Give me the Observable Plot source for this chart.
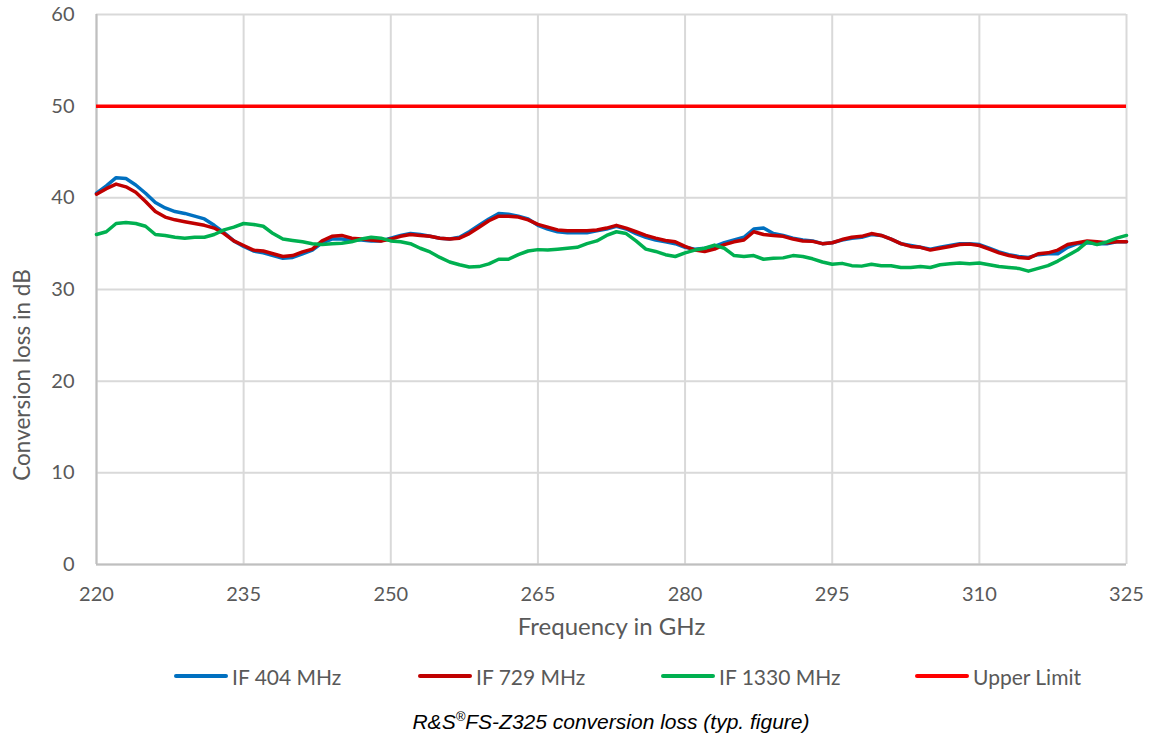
<!DOCTYPE html>
<html>
<head>
<meta charset="utf-8">
<script src="https://cdn.jsdelivr.net/npm/d3@7"></script>
<script src="https://cdn.jsdelivr.net/npm/@observablehq/plot@0.6"></script>
<style>
  body { margin: 0; background: #fff; }
  #fig { position: relative; width: 1151px; height: 739px; font-family: Lato, sans-serif; }
  #ytitle { position: absolute; left: 22px; top: 375px; transform: translate(-50%, -50%) rotate(-90deg);
            font-size: 22.5px; color: #595959; white-space: nowrap; line-height: 1; }
  #legend { position: absolute; top: 664px; left: 0; width: 1151px; height: 24px; }
  .item { position: absolute; top: 0; height: 24px; display: flex; align-items: center; font-size: 21px; color: #595959; white-space: nowrap; }
  .sw { display: inline-block; width: 54px; height: 4px; border-radius: 2px; margin-right: 4px; }
  #caption { position: absolute; top: 710px; left: 96px; width: 1030px; text-align: center;
             font-family: "Liberation Sans", Arial, sans-serif; font-style: italic; font-size: 21px; color: #000; }
  #caption sup { font-size: 0.62em; vertical-align: 0.6em; line-height: 0; }
</style>
</head>
<body>
<div id="fig">
  <div id="chart"></div>
  <div id="ytitle">Conversion loss in dB</div>
  <div id="legend"></div>
  <div id="caption">R&amp;S<sup>®</sup>FS-Z325 conversion loss (typ. figure)</div>
</div>
<script>
// Frequency grid in GHz
const freqGHz = [
  220, 221, 222, 223, 224, 225, 226, 227, 228, 229,
  230, 231, 232, 233, 234, 235, 236, 237, 238, 239,
  240, 241, 242, 243, 244, 245, 246, 247, 248, 249,
  250, 251, 252, 253, 254, 255, 256, 257, 258, 259,
  260, 261, 262, 263, 264, 265, 266, 267, 268, 269,
  270, 271, 272, 273, 274, 275, 276, 277, 278, 279,
  280, 281, 282, 283, 284, 285, 286, 287, 288, 289,
  290, 291, 292, 293, 294, 295, 296, 297, 298, 299,
  300, 301, 302, 303, 304, 305, 306, 307, 308, 309,
  310, 311, 312, 313, 314, 315, 316, 317, 318, 319,
  320, 321, 322, 323, 324, 325
];

// Conversion loss (dB) at IF 404 MHz
const loss404 = [
  40.5, 41.3, 42.2, 42.1, 41.4, 40.5, 39.5, 38.9, 38.5, 38.3,
  38.0, 37.7, 37.0, 36.2, 35.3, 34.7, 34.2, 34.0, 33.7, 33.4,
  33.5, 33.9, 34.3, 35.1, 35.5, 35.5, 35.4, 35.4, 35.3, 35.3,
  35.6, 35.9, 36.1, 36.0, 35.8, 35.6, 35.5, 35.7, 36.3, 37.0,
  37.7, 38.3, 38.2, 38.0, 37.7, 37.0, 36.6, 36.3, 36.2, 36.2,
  36.2, 36.4, 36.6, 36.9, 36.6, 36.1, 35.7, 35.4, 35.2, 35.0,
  34.6, 34.4, 34.5, 34.7, 35.1, 35.4, 35.7, 36.6, 36.7, 36.1,
  35.9, 35.6, 35.4, 35.3, 35.0, 35.1, 35.4, 35.6, 35.7, 36.0,
  35.9, 35.5, 35.0, 34.8, 34.6, 34.4, 34.6, 34.8, 35.0, 35.0,
  34.9, 34.5, 34.1, 33.8, 33.6, 33.5, 33.8, 33.9, 33.9, 34.6,
  35.0, 35.1, 35.0, 35.0, 35.2, 35.2
];

// Conversion loss (dB) at IF 729 MHz
const loss729 = [
  40.4, 41.0, 41.5, 41.2, 40.6, 39.6, 38.5, 37.9, 37.6, 37.4,
  37.2, 37.0, 36.7, 36.1, 35.3, 34.8, 34.3, 34.2, 33.9, 33.6,
  33.7, 34.1, 34.4, 35.3, 35.8, 35.9, 35.6, 35.5, 35.4, 35.3,
  35.5, 35.8, 36.0, 35.9, 35.8, 35.6, 35.5, 35.6, 36.1, 36.8,
  37.5, 38.0, 38.0, 37.9, 37.6, 37.1, 36.8, 36.5, 36.4, 36.4,
  36.4, 36.5, 36.7, 37.0, 36.7, 36.3, 35.9, 35.6, 35.35, 35.2,
  34.7, 34.3, 34.15, 34.4, 34.9, 35.2, 35.4, 36.3, 36.0, 35.9,
  35.8, 35.5, 35.3, 35.25, 35.0, 35.1, 35.45, 35.7, 35.8, 36.1,
  35.9, 35.5, 35.0, 34.7, 34.6, 34.3, 34.5, 34.7, 34.9, 34.95,
  34.8, 34.4, 34.0, 33.7, 33.5, 33.4, 33.9, 34.0, 34.3, 34.9,
  35.1, 35.3, 35.2, 35.1, 35.2, 35.2
];

// Conversion loss (dB) at IF 1330 MHz
const loss1330 = [
  36.0, 36.3, 37.2, 37.3, 37.2, 36.9, 36.0, 35.9, 35.7, 35.6,
  35.7, 35.7, 36.0, 36.5, 36.8, 37.2, 37.1, 36.9, 36.1, 35.5,
  35.35, 35.2, 35.0, 34.9, 35.0, 35.05, 35.2, 35.5, 35.7, 35.6,
  35.3, 35.2, 35.0, 34.5, 34.1, 33.5, 33.0, 32.7, 32.45, 32.5,
  32.8, 33.3, 33.3, 33.8, 34.2, 34.35, 34.3, 34.4, 34.5, 34.6,
  35.0, 35.3, 35.9, 36.3, 36.1, 35.3, 34.4, 34.15, 33.8, 33.6,
  34.0, 34.3, 34.5, 34.85, 34.5, 33.7, 33.6, 33.7, 33.3, 33.4,
  33.45, 33.7, 33.6, 33.35, 33.0, 32.75, 32.85, 32.6, 32.55, 32.75,
  32.6, 32.6, 32.4, 32.4, 32.5, 32.4, 32.7, 32.8, 32.9, 32.8,
  32.9, 32.7, 32.5, 32.4, 32.3, 32.0, 32.3, 32.6, 33.1, 33.7,
  34.3, 35.2, 34.9, 35.2, 35.6, 35.9
];

// Specified upper limit (dB)
const upperLimit = 50;

// Axis ticks
const xTicks = [220, 235, 250, 265, 280, 295, 310, 325];
const yTicks = [0, 10, 20, 30, 40, 50, 60];

const seriesNames = ["IF 404 MHz", "IF 729 MHz", "IF 1330 MHz", "Upper Limit"];
const seriesColors = ["#0070C0", "#C00000", "#00B050", "#FF0000"];

const measured = [loss404, loss729, loss1330];
const rows = measured.flatMap((vals, s) =>
  freqGHz.map((f, i) => ({ freq: f, loss: vals[i], series: seriesNames[s] }))
);

const textColor = "#595959";

const chart = Plot.plot({
  width: 1151,
  height: 655,
  marginTop: 14,
  marginRight: 25,
  marginBottom: 91,
  marginLeft: 96,
  style: { fontFamily: "Lato, sans-serif", fontSize: "20px", color: textColor, background: "#fff" },
  x: { domain: [220, 325] },
  y: { domain: [0, 60] },
  color: { domain: seriesNames, range: seriesColors },
  marks: [
    Plot.gridX(xTicks, { stroke: "#d9d9d9", strokeOpacity: 1, strokeWidth: 2 }),
    Plot.gridY(yTicks, { stroke: "#d9d9d9", strokeOpacity: 1, strokeWidth: 2 }),
    Plot.ruleX([220], { stroke: "#bfbfbf", strokeWidth: 2 }),
    Plot.ruleY([0], { stroke: "#bfbfbf", strokeWidth: 2 }),
    Plot.axisX({ ticks: xTicks, tickSize: 0, tickPadding: 22, label: null, fill: textColor }),
    Plot.axisY({ ticks: yTicks, tickSize: 0, tickPadding: 22, label: null, fill: textColor }),
    Plot.line(rows, { x: "freq", y: "loss", z: "series", stroke: "series", strokeWidth: 3.5, curve: "linear" }),
    Plot.ruleY([upperLimit], { stroke: seriesColors[3], strokeWidth: 3.5 }),
    Plot.text(["Frequency in GHz"], { frameAnchor: "bottom", dy: 70, fontSize: 24, fill: textColor })
  ]
});
document.getElementById("chart").appendChild(chart);

// Legend row below the plot
const legendLeft = [174, 418, 661, 915];
const legend = document.getElementById("legend");
seriesNames.forEach((name, i) => {
  const item = document.createElement("div");
  item.className = "item";
  item.style.left = legendLeft[i] + "px";
  const sw = document.createElement("span");
  sw.className = "sw";
  sw.style.background = seriesColors[i];
  item.appendChild(sw);
  item.appendChild(document.createTextNode(name));
  legend.appendChild(item);
});
</script>
</body>
</html>
